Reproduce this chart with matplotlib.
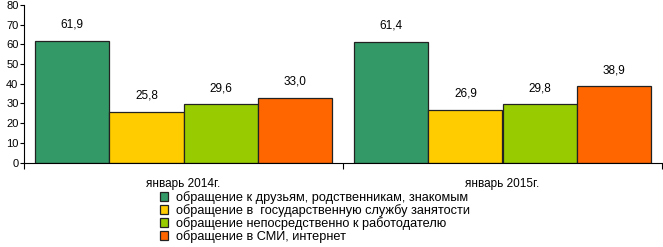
import numpy as np
import matplotlib
matplotlib.use("Agg")
import matplotlib.pyplot as plt

plt.rcParams['font.family'] = ['Liberation Sans', 'DejaVu Sans']

periods = ["январь 2014г.", "январь 2015г."]
series = [
    "обращение к друзьям, родственникам, знакомым",
    "обращение в  государственную службу занятости",
    "обращение непосредственно к работодателю",
    "обращение в СМИ, интернет",
]
values = [
    [61.9, 61.4],
    [25.8, 26.9],
    [29.6, 29.8],
    [33.0, 38.9],
]
colors = ["#339966", "#FFCC00", "#99CC00", "#FF6600"]

W, H = 663, 247
fig = plt.figure(figsize=(W / 100, H / 100), dpi=100)
ax = fig.add_axes([24 / W, 1 - 162.5 / H, 638 / W, 157.5 / H])

x = np.arange(len(periods))
bw = 0.2325
for i, (name, vals, c) in enumerate(zip(series, values, colors)):
    pos = x + (i - 1.5) * bw
    ax.bar(pos, vals, width=bw, color=c, edgecolor="#222222", linewidth=0.9, label=name)
    for p, v in zip(pos, vals):
        ax.annotate(f"{v:.1f}".replace(".", ","), (p, v), xytext=(0, 7),
                    textcoords="offset points", ha="center", va="bottom", fontsize=8.5)

ax.set_xlim(-0.5, 1.5)
ax.set_ylim(0, 80)
ax.set_yticks(range(0, 81, 10))
ax.tick_params(axis="y", labelsize=8, length=3, pad=1)
ax.set_xticks([-0.5, 0.5, 1.5])
ax.set_xticklabels([])
ax.set_xticks(x, minor=True)
ax.set_xticklabels(periods, minor=True)
ax.tick_params(axis="x", which="major", length=4)
ax.tick_params(axis="x", which="minor", length=0, labelsize=8.5, pad=11)
for s in ["top", "right"]:
    ax.spines[s].set_visible(False)

fig.legend(loc="upper left", bbox_to_anchor=(160 / W, 1 - 191 / H), frameon=False,
           fontsize=9.2, handlelength=0.65, handleheight=0.65, handletextpad=0.6,
           labelspacing=0.0, borderpad=0, borderaxespad=0)

fig.savefig("out.png", dpi=100)
